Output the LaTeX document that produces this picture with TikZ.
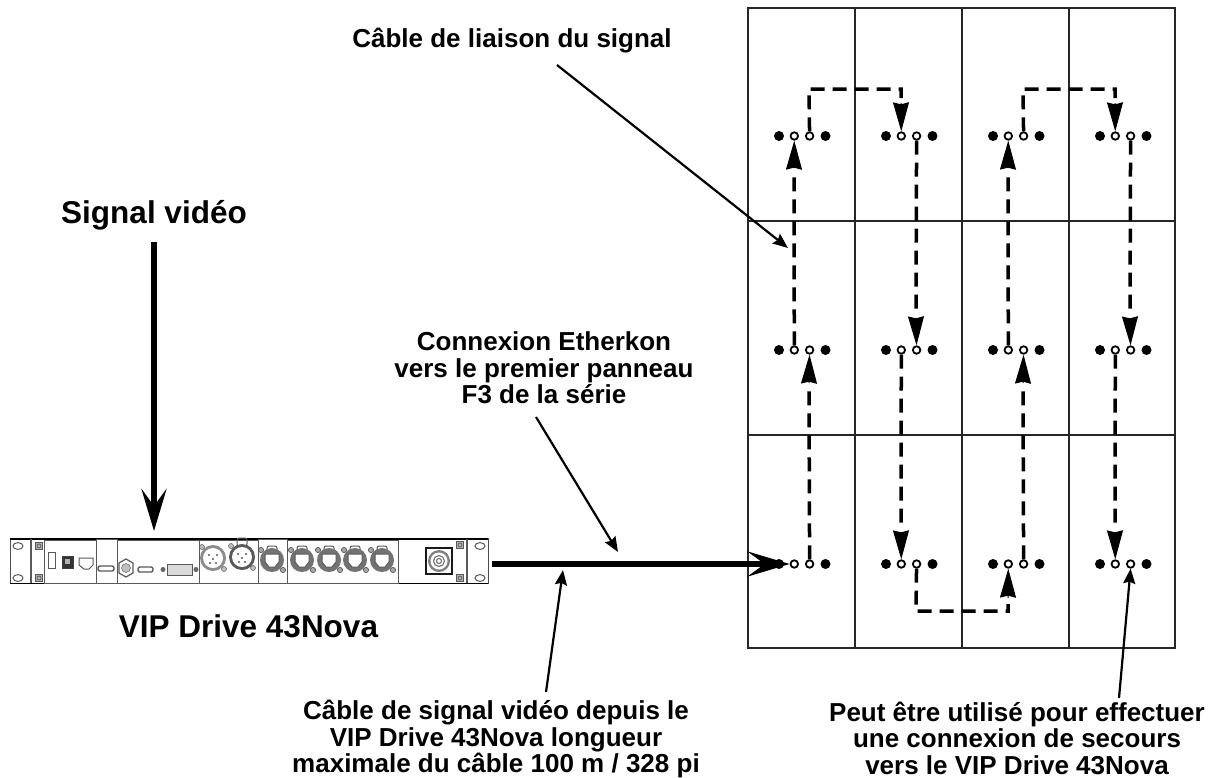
\documentclass[tikz,border=0pt]{standalone}
\usepackage{fontspec}
\setmainfont{Liberation Sans}
\usetikzlibrary{arrows.meta}
\tikzset{
 x=1pt,y=-1pt,
 panelline/.style={line width=1.5pt,draw=black!85},
 lab/.style={font=\bfseries\fontsize{26}{26.5}\selectfont,align=center,inner sep=0pt},
 biglab/.style={font=\bfseries\fontsize{31.5}{33}\selectfont,inner sep=0pt},
 port/.style={circle,draw=black,line width=1.8pt,fill=white,minimum size=7.5pt,inner sep=0pt},
 pin/.style={circle,fill=black,minimum size=10pt,inner sep=0pt},
 link/.style={line width=3.5pt,dash pattern=on 14pt off 8pt},
 head/.style={-{Stealth[length=29pt,width=16pt,inset=2pt]},line width=1pt},
 leader/.style={line width=2.2pt,-{Stealth[length=15pt,width=12pt,inset=2pt]}},
 bigarrow/.style={line width=6pt,-{Stealth[length=42pt,width=25pt,inset=17pt]}},
 dev/.style={draw=black!65,line width=1pt},
 devdark/.style={draw=black!75,fill=black!45,line width=.8pt},
 devfill/.style={draw=black!65,fill=black!30,line width=.8pt},
}
\newcommand{\slotoval}[2]{\draw[dev] (#1,#2) ellipse[x radius=5,y radius=3.4];}
\newcommand{\screwmark}[2]{\draw[devfill] (#1-3.5,#2-3.5) rectangle (#1+3.5,#2+3.5); \draw[black!70,line width=.6pt] (#1,#2) circle[radius=2];}
\newcommand{\etherconp}[2]{%
 \draw[dev,rounded corners=2pt] (#1-5,#2-14) rectangle (#1+5,#2-6);
 \fill[black!55] (#1,#2) circle[radius=12];
 \draw[black!70,fill=black!35,line width=.6pt] (#1-11,#2-10) circle[radius=2.6] (#1+11,#2+10) circle[radius=2.6];
 \fill[white] (#1-7,#2-6) -- (#1+7,#2-6) -- (#1+7,#2+2) -- (#1+3,#2+7) -- (#1-3,#2+7) -- (#1-7,#2+2) -- cycle;
 \draw[black!65,line width=1pt] (#1-7,#2-6) -- (#1+7,#2-6) -- (#1+7,#2+2) -- (#1+3,#2+7) -- (#1-3,#2+7) -- (#1-7,#2+2) -- cycle;}
\newcommand{\xlrp}[3]{%
 \fill[black!#3] (#1,#2) circle[radius=13];
 \fill[white] (#1,#2) circle[radius=10];
 \fill[black!65] (#1-4,#2-3) circle[radius=1.2] (#1+4,#2-3) circle[radius=1.2] (#1,#2+1) circle[radius=1.2] (#1-3,#2+5) circle[radius=1.2] (#1+3,#2+5) circle[radius=1.2];
 \draw[black!60,fill=black!25,line width=.6pt] (#1-11,#2-11) circle[radius=2.5] (#1+11,#2+11) circle[radius=2.5];}
\begin{document}
\begin{tikzpicture}
\useasboundingbox (0,0) rectangle (1212,777);
% wall
\draw[panelline] (748,8) rectangle (1175,648);
\draw[panelline] (855,8)--(855,648) (962,8)--(962,648) (1069,8)--(1069,648);
\draw[panelline] (748,221)--(1175,221) (748,435)--(1175,435);
% ports
\foreach \r/\y in {a/136,b/350,c/564}{
 \foreach \c/\x in {1/779,2/886,3/993,4/1100}{
  \node[pin] at (\x,\y) {};
  \node[pin] at (\x+46.5,\y) {};
  \node[port] (\r\c l) at (\x+15.3,\y) {};
  \node[port] (\r\c r) at (\x+30.6,\y) {};
 }}
% device
\node[draw=black!70,line width=1pt,minimum width=478pt,minimum height=45pt,inner sep=0pt,fill=white] (vip) at (249,561) {};
\draw[black,line width=1.6pt] (10,539)--(488,539) (10,583.5)--(488,583.5);
\draw[dev,line width=1.3pt] (31,539)--(31,583) (467,539)--(467,583);
\slotoval{18}{546}\slotoval{18}{578}\slotoval{480}{546}\slotoval{480}{578}
\screwmark{39}{546}\screwmark{39}{578}\screwmark{460}{545}\screwmark{460}{578}
\draw[dev] (44,540) rectangle (96,583) (96,539) rectangle (117,583) (117,540) rectangle (199,583) (199,540) rectangle (258,583) (258,539) rectangle (287,583) (287,540) rectangle (398,583);
\draw[dev] (48,552) rectangle (55,568);
\draw[devdark,fill=black!80] (62,556) rectangle (73,568); \fill[white!70!black] (65,559) rectangle (70,564);
\draw[dev] (79,558)--(93,558)--(93,565)--(89,569)--(84,569)--(79,565)--cycle;
\draw[devfill,fill=white,rounded corners=2pt,line width=1.4pt] (98,566) rectangle (114,571);
\draw[devfill,fill=white,line width=1.2pt] (126,559)--(133,563)--(133,573)--(126,577)--(119,573)--(119,563)--cycle;
\draw[black!70,fill=black!25] (126,568) circle[radius=4.5];
\draw[devfill,fill=white,rounded corners=2pt,line width=1.4pt] (138,567) rectangle (153,572);
\draw[devfill,fill=black!15] (167,564) rectangle (192,575);
\fill[black!60] (163,569.5) circle[radius=2.5] (196,569.5) circle[radius=2.5];
\draw[dev,rounded corners=2pt] (237,538) rectangle (247,546);
\xlrp{213}{558}{45}\xlrp{242}{557}{65}
\etherconp{272}{560}\etherconp{302}{560}\etherconp{329}{560}\etherconp{355}{560}\etherconp{382}{560}
\draw[black!90,line width=1.6pt,fill=white] (426,548) rectangle (452,574);
\fill[black!50] (439,561) circle[radius=11]; \fill[white] (439,561) circle[radius=8.5]; \draw[black!60,line width=1pt] (439,561) circle[radius=5.5] circle[radius=2.5];
% dashed links
\coordinate (h1) at (794,168);\coordinate (h2) at (809,383);\coordinate (h3) at (901,103);\coordinate (h4) at (916,318);
\coordinate (h5) at (901,532);\coordinate (h6) at (1008,598);\coordinate (h7) at (1023,383);\coordinate (h8) at (1008,168);
\coordinate (h9) at (1115,103);\coordinate (h10) at (1130,318);\coordinate (h11) at (1115,532);
\draw[link] (b1l)--(794,176); \draw[head] (h1)--(a1l);
\draw[link] (c1r)--(809,390); \draw[head] (h2)--(b1r);
\draw[link] (a1r)--(809,89)--(901,89)--(901,98); \draw[head] (h3)--(a2l);
\draw[link] (a2r)--(916,310); \draw[head] (h4)--(b2r);
\draw[link] (b2l)--(901,525); \draw[head] (h5)--(c2l);
\draw[link] (c2r)--(916,611)--(1008,611)--(1008,604); \draw[head] (h6)--(c3l);
\draw[link] (c3r)--(1023,390); \draw[head] (h7)--(b3r);
\draw[link] (b3l)--(1008,176); \draw[head] (h8)--(a3l);
\draw[link] (a3r)--(1023,89)--(1115,89)--(1115,98); \draw[head] (h9)--(a4l);
\draw[link] (a4r)--(1130,310); \draw[head] (h10)--(b4r);
\draw[link] (b4l)--(1115,525); \draw[head] (h11)--(c4l);
% labels
\node[lab,anchor=base] (t1) at (512,47) {Câble de liaison du signal};
\node[biglab,anchor=base] (t2) at (154,223) {Signal vidéo};
\node[lab] (t3) at (544,368) {Connexion Etherkon\\vers le premier panneau\\F3 de la série};
\node[biglab,anchor=base] (t4) at (248.5,637) {VIP Drive 43Nova};
\node[lab] (t5) at (496,739) {Câble de signal vidéo depuis le\\VIP Drive 43Nova longueur\\maximale du câble 100 m / 328 pi};
\node[lab] (t6) at (1017,738) {Peut être utilisé pour effectuer\\une connexion de secours\\vers le VIP Drive 43Nova};
% arrows
\coordinate (sigtop) at (154,242); \coordinate (vipin) at (154,531);
\draw[bigarrow] (sigtop)--(vipin);
\coordinate (cabstart) at (492,564);
\draw[bigarrow] (cabstart)--(c1l.west);
\coordinate (l1s) at (557,65); \coordinate (l1e) at (788,248);
\draw[leader] (l1s)--(l1e);
\coordinate (l3s) at (536,417); \coordinate (l3e) at (618,552);
\draw[leader] (l3s)--(l3e);
\coordinate (l5s) at (546,692); \coordinate (l5e) at (563,570);
\draw[leader] (l5s)--(l5e);
\coordinate (l6s) at (1119,698);
\draw[leader] (l6s)--(c4r.south);
\end{tikzpicture}
\end{document}
